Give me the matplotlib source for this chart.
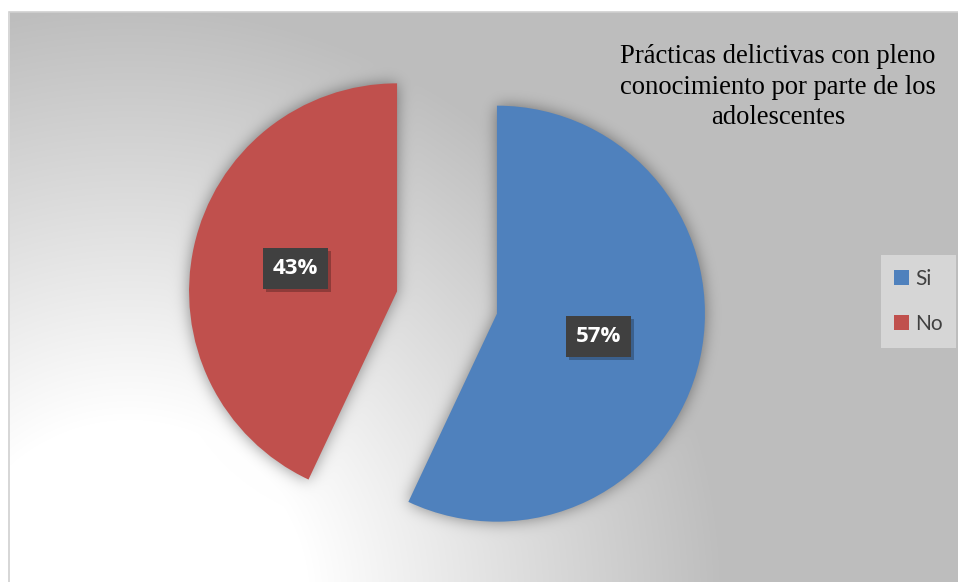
import numpy as np
import matplotlib
matplotlib.use("Agg")
import matplotlib.pyplot as plt
from matplotlib.patches import Rectangle, Patch
import matplotlib.patheffects as pe

# Data
categories = ["Si", "No"]
values = [57, 43]
colors = ["#4F81BD", "#C0504D"]
title = "Prácticas delictivas con pleno\nconocimiento por parte de los\nadolescentes"

W, H = 958, 582
fig = plt.figure(figsize=(W / 100, H / 100), dpi=100)
fig.patch.set_facecolor("white")
ax = fig.add_axes([0, 0, 1, 1])

# Exploded pie, first slice starting at 12 o'clock going clockwise
R = 208
wedges, texts, autotexts = ax.pie(
    values, colors=colors, startangle=90, counterclock=False,
    explode=[0.246 * R, 0.246 * R], radius=R, center=(447, H - 302.5),
    autopct="%1.0f%%", pctdistance=0.5, frame=True,
    wedgeprops=dict(linewidth=0, zorder=3),
    textprops=dict(color="white", fontsize=16, fontweight="bold",
                   family=["Open Sans", "DejaVu Sans"]),
)
ax.set_xlim(0, W)
ax.set_ylim(0, H)
ax.set_aspect("auto")
ax.set_axis_off()

for t in autotexts:
    t.set_zorder(6)
    t.set_bbox(dict(boxstyle="square,pad=0.45", fc="#404040", ec="none"))
    t.get_bbox_patch().set_path_effects(
        [pe.withSimplePatchShadow(offset=(2, -2), shadow_rgbFace="black", alpha=0.25)])

# Plot-area background: radial light gradient from lower left
x0, y0 = 10, 12
yy, xx = np.mgrid[0:H, 0:W] + 0.5
dist = np.hypot(xx - 130, yy - 600)
t = np.clip((dist - 180) / (590 - 180), 0, 1)
bg = 1.0 * (1 - t) + 0.745 * t

# Soft shadow around the slices
fig.canvas.draw()
mask = np.zeros((H, W))
pts = np.column_stack([xx.ravel(), (H - yy).ravel()])
for w in wedges:
    path = w.get_transform().transform_path(w.get_path())
    mask = np.maximum(mask, path.contains_points(pts).reshape(H, W).astype(float))

sigma = 7.5
k = np.arange(-26, 27)
kern = np.exp(-0.5 * (k / sigma) ** 2)
kern /= kern.sum()
blur = np.apply_along_axis(lambda r: np.convolve(r, kern, mode="same"), 1, mask)
blur = np.apply_along_axis(lambda c: np.convolve(c, kern, mode="same"), 0, blur)
bg = bg * (1 - 0.42 * blur)

img = np.ones((H, W))
img[y0:, x0:] = bg[y0:, x0:]
ax.imshow(np.dstack([img] * 3), extent=[0, W, 0, H], origin="upper",
          zorder=0, interpolation="nearest", aspect="auto")
ax.add_patch(Rectangle((x0 - 0.5, -5), W, H - y0 + 5.5, fill=False,
                       ec="#d0d0d0", lw=1.2, zorder=1))

# Title
fig.text(778 / W, 1 - 87 / H, title, ha="center", va="center",
         fontsize=19.2, family="Liberation Serif", color="black",
         linespacing=1.3, zorder=7)

# Legend
handles = [Patch(facecolor=c, edgecolor="none") for c in colors]
leg = fig.legend(handles, categories, loc="center",
                 bbox_to_anchor=(918.5 / W, 1 - 301.5 / H),
                 frameon=True, fancybox=False, facecolor="#d6d6d6",
                 edgecolor="none", framealpha=1,
                 prop=dict(family=["Lato", "DejaVu Sans"], size=15),
                 handlelength=0.7, handleheight=0.7, handletextpad=0.3,
                 labelspacing=1.2, borderpad=0.65, borderaxespad=0,
                 labelcolor="#404040")

fig.savefig("out.png", dpi=100)
